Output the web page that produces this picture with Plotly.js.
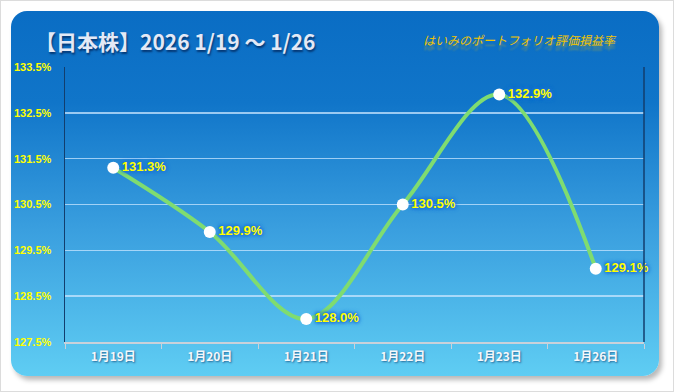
<!DOCTYPE html>
<html>
<head>
<meta charset="utf-8">
<script src="https://cdn.plot.ly/plotly-3.0.1.min.js"></script>
<style>
  html, body { margin: 0; padding: 0; background: #ffffff; }
  #wrap { position: relative; width: 674px; height: 392px; overflow: hidden; box-sizing: border-box; border: 1px solid #dcdcdc; background: #fff; }
  #panel { position: absolute; left: 10px; top: 10px; width: 648px; height: 365px; border-radius: 16px;
           background: linear-gradient(to bottom, #0a6dc4 0%, #1075c9 25%, #3a9fdf 60%, #5fcdf3 100%);
           box-shadow: 3px 4px 5px rgba(0,0,0,0.28); }
  #chart { position: absolute; left: -1px; top: -1px; width: 674px; height: 392px; }
</style>
</head>
<body>
<div id="wrap">
  <div id="panel"></div>
  <div id="chart"></div>
</div>
<script>
const categories = ["1月19日", "1月20日", "1月21日", "1月22日", "1月23日", "1月26日"];
const values = [131.3, 129.9, 128.0, 130.5, 132.9, 129.1];
const yTickValues = [127.5, 128.5, 129.5, 130.5, 131.5, 132.5, 133.5];
const yTickLabels = ["127.5%", "128.5%", "129.5%", "130.5%", "131.5%", "132.5%", "133.5%"];
const titleText = "【日本株】2026 1/19 ～ 1/26";
const subtitleText = "はいみのポートフォリオ評価損益率";

const labels = values.map(v => "<b>" + v.toFixed(1) + "%</b>");

const trace = {
  type: "scatter",
  mode: "lines+markers+text",
  x: categories,
  y: values,
  text: labels,
  textposition: "middle right",
  textfont: { family: "Liberation Sans, Arial, sans-serif", size: 13, color: "#ffff00",
              shadow: "0 0 3px #1e72d8, 0 0 3px #1e72d8, 0 0 4px #1e72d8, 0 0 5px #1e72d8" },
  line: { shape: "spline", smoothing: 1, color: "#7fdc70", width: 4 },
  marker: { size: 12, color: "#ffffff", line: { width: 0 } },
  cliponaxis: false,
  hoverinfo: "skip"
};

const layout = {
  width: 674, height: 392,
  margin: { l: 65, r: 30, t: 67, b: 50 },
  paper_bgcolor: "rgba(0,0,0,0)",
  plot_bgcolor: "rgba(0,0,0,0)",
  showlegend: false,
  xaxis: {
    type: "category",
    range: [-0.5, 5.5],
    showgrid: false,
    zeroline: false,
    showline: true, linecolor: "#c9d1da", linewidth: 2,
    ticks: "outside", tickson: "boundaries", ticklen: 5, tickcolor: "#c9d1da", tickwidth: 1,
    ticktext: categories.map(c => "<b>" + c + "</b>"),
    tickvals: categories,
    ticklabelstandoff: 3,
    tickfont: { family: "Noto Sans CJK JP, sans-serif", size: 12, color: "#f4f7fb",
                shadow: "1px 1px 2px rgba(0,40,90,0.6)" },
    fixedrange: true
  },
  yaxis: {
    range: [127.5, 133.5],
    tickvals: yTickValues,
    ticktext: yTickLabels.map(t => "<b>" + t + "</b>"),
    showgrid: true, gridcolor: "rgba(200,230,255,0.75)", gridwidth: 1.5,
    zeroline: false,
    showline: true, mirror: false, linecolor: "#123e6e", linewidth: 1.5,
    ticks: "", ticklabelstandoff: 10,
    tickfont: { family: "Liberation Sans, Arial, sans-serif", size: 11, color: "#ffff00" },
    fixedrange: true
  },
  shapes: [
    { type: "line", xref: "paper", yref: "paper", x0: 1, x1: 1, y0: 0, y1: 1,
      line: { color: "#123e6e", width: 1.5 } }
  ],
  annotations: [
    {
      xref: "paper", yref: "paper", x: (33 - 65) / 579, y: 1 + (67 - 41) / 275,
      xanchor: "left", yanchor: "middle", showarrow: false,
      text: "<b>" + titleText + "</b>",
      font: { family: "Noto Sans CJK JP, sans-serif", size: 21, color: "#e3e9f6",
              shadow: "1px 2px 2px rgba(0,30,80,0.7)" }
    },
    {
      xref: "paper", yref: "paper", x: (520 - 65) / 579, y: 1 + (67 - 39) / 275,
      xanchor: "center", yanchor: "middle", showarrow: false,
      text: "<i>" + subtitleText + "</i>",
      font: { family: "Noto Sans CJK JP, sans-serif", size: 12, color: "#f2c400",
              shadow: "0 5px 2px rgba(242,196,0,0.35)" }
    }
  ]
};

Plotly.newPlot("chart", [trace], layout, { displayModeBar: false, staticPlot: true });
</script>
</body>
</html>
